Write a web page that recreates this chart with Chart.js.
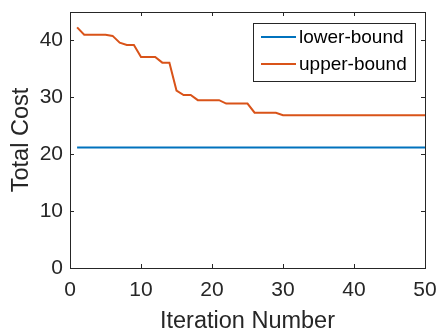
<!DOCTYPE html>
<html>
<head>
<meta charset="utf-8">
<script src="https://cdn.jsdelivr.net/npm/chart.js@4/dist/chart.umd.min.js"></script>
<style>
html,body{margin:0;padding:0;background:#fff;}
#wrap{width:438px;height:336px;position:relative;}
</style>
</head>
<body>
<div id="wrap"><canvas id="c" width="438" height="336"></canvas></div>
<script>
const iterations = [1,2,3,4,5,6,7,8,9,10,11,12,13,14,15,16,17,18,19,20,21,22,23,24,25,26,27,28,29,30,31,32,33,34,35,36,37,38,39,40,41,42,43,44,45,46,47,48,49,50];
const lowerBound = [21.2,21.2,21.2,21.2,21.2,21.2,21.2,21.2,21.2,21.2,21.2,21.2,21.2,21.2,21.2,21.2,21.2,21.2,21.2,21.2,21.2,21.2,21.2,21.2,21.2,21.2,21.2,21.2,21.2,21.2,21.2,21.2,21.2,21.2,21.2,21.2,21.2,21.2,21.2,21.2,21.2,21.2,21.2,21.2,21.2,21.2,21.2,21.2,21.2,21.2];
const upperBound = [42.3,41.0,41.0,41.0,41.0,40.8,39.6,39.2,39.2,37.1,37.1,37.1,36.1,36.1,31.2,30.4,30.4,29.5,29.5,29.5,29.5,28.9,28.9,28.9,28.9,27.3,27.3,27.3,27.3,26.85,26.85,26.85,26.85,26.85,26.85,26.85,26.85,26.85,26.85,26.85,26.85,26.85,26.85,26.85,26.85,26.85,26.85,26.85,26.85,26.85];
const xTicks = [0,10,20,30,40,50];
const yTicks = [0,10,20,30,40];
const seriesNames = ['lower-bound','upper-bound'];

const AX = '#262626';
const FONT = 'Liberation Sans, Arial, Helvetica, sans-serif';

const boxPlugin = {
  id: 'boxPlugin',
  afterDatasetsDraw(chart) {
    const {ctx, chartArea: a, scales} = chart;
    ctx.save();
    ctx.strokeStyle = AX;
    ctx.lineWidth = 1;
    ctx.strokeRect(Math.round(a.left)+0.5, Math.round(a.top)+0.5, Math.round(a.right-a.left), Math.round(a.bottom-a.top));
    const tl = 4;
    ctx.beginPath();
    xTicks.forEach(v => {
      const x = Math.round(scales.x.getPixelForValue(v)) + 0.5;
      ctx.moveTo(x, a.bottom); ctx.lineTo(x, a.bottom - tl);
      ctx.moveTo(x, a.top); ctx.lineTo(x, a.top + tl);
    });
    yTicks.forEach(v => {
      const y = Math.round(scales.y.getPixelForValue(v)) + 0.5;
      ctx.moveTo(a.left, y); ctx.lineTo(a.left + tl, y);
      ctx.moveTo(a.right, y); ctx.lineTo(a.right - tl, y);
    });
    ctx.stroke();
    // legend
    const lx = 253, ly = 23, lw = 162, lh = 58;
    ctx.fillStyle = '#fff';
    ctx.fillRect(lx, ly, lw, lh);
    ctx.strokeStyle = AX;
    ctx.strokeRect(lx+0.5, ly+0.5, lw, lh);
    chart.data.datasets.forEach((ds, i) => {
      const y = ly + 14 + i * 27;
      ctx.strokeStyle = ds.borderColor;
      ctx.lineWidth = 2;
      ctx.beginPath(); ctx.moveTo(261, y); ctx.lineTo(296, y); ctx.stroke();
      ctx.fillStyle = '#000';
      ctx.font = '19px ' + FONT;
      ctx.textBaseline = 'middle';
      ctx.textAlign = 'left';
      ctx.fillText(ds.label, 299, y + 1);
    });
    ctx.restore();
  }
};

new Chart(document.getElementById('c'), {
  type: 'line',
  data: {
    datasets: [
      { label: seriesNames[0], data: iterations.map((x,i)=>({x, y: lowerBound[i]})), borderColor: '#0072BD', borderWidth: 2, pointRadius: 0, tension: 0, fill: false },
      { label: seriesNames[1], data: iterations.map((x,i)=>({x, y: upperBound[i]})), borderColor: '#D95319', borderWidth: 2, pointRadius: 0, tension: 0, fill: false }
    ]
  },
  options: {
    responsive: false,
    animation: false,
    layout: { padding: { top: 12, right: 13, left: 0, bottom: 0 } },
    plugins: { legend: { display: false }, tooltip: { enabled: false } },
    scales: {
      x: {
        type: 'linear', min: 0, max: 50,
        afterBuildTicks: s => { s.ticks = xTicks.map(v => ({value: v})); },
        afterFit: s => { s.height = 68; s.paddingLeft = 0; s.paddingRight = 0; },
        grid: { display: false, drawTicks: false },
        border: { display: false },
        ticks: { color: AX, font: { family: FONT, size: 21 }, padding: 10, maxRotation: 0 },
        title: { display: true, text: 'Iteration Number', color: AX, font: { family: FONT, size: 23.5 }, padding: { top: 0, bottom: 0 } }
      },
      y: {
        type: 'linear', min: 0, max: 45,
        afterBuildTicks: s => { s.ticks = yTicks.map(v => ({value: v})); },
        afterFit: s => { s.width = 70; s.paddingTop = 0; s.paddingBottom = 0; },
        grid: { display: false, drawTicks: false },
        border: { display: false },
        ticks: { color: AX, font: { family: FONT, size: 21 }, padding: 7 },
        title: { display: true, text: 'Total Cost', color: AX, font: { family: FONT, size: 23.5 }, padding: { top: 7, bottom: 0 } }
      }
    }
  },
  plugins: [boxPlugin]
});
</script>
</body>
</html>
